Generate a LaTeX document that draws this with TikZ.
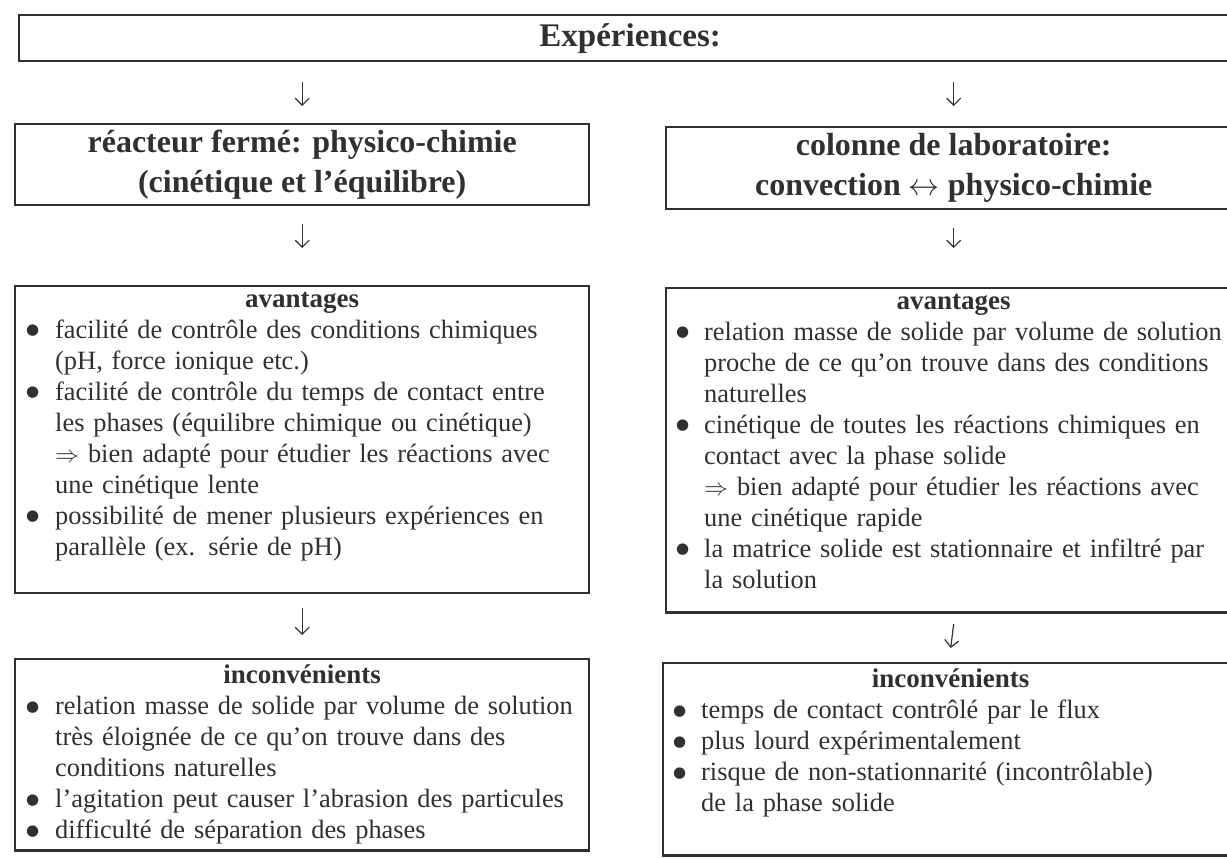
\documentclass[tikz,border=0pt]{standalone}
\usepackage{fontspec}
\setmainfont{Liberation Serif}
\newfontfamily\dotfont{DejaVu Sans}
\usetikzlibrary{arrows.meta,positioning,calc}
\definecolor{ink}{HTML}{303030}
\newlength{\bulpre}
\newlength{\bulind}
\newcommand{\bul}[1]{\makebox[\bulind][l]{\hspace{\bulpre}\raisebox{1.8pt}{\dotfont\fontsize{7.5}{8}\selectfont ●}}#1}
\newcommand{\cnt}[1]{\hspace*{\bulind}#1}
\newcommand{\imp}{$\Rightarrow$}
\newcommand{\both}{\scalebox{0.9}{$\leftrightarrow$}}
\newcommand{\listhead}[1]{{\centering\fontsize{13.5}{15}\selectfont\bfseries #1\par}}

\begin{document}
\begin{tikzpicture}[
    x=0.5pt, y=-0.5pt,
    >={Straight Barb[length=3.5pt,width=7pt]},
    box/.style={
        rectangle,
        draw=ink,
        line width=1.2pt,
        text=ink,
        inner sep=0pt
    },
    titlebox/.style={box, minimum width=611pt, minimum height=23pt,
        font=\fontsize{16.5}{20}\selectfont\bfseries},
    headbox/.style={box, align=center, font=\fontsize{16}{20}\selectfont\bfseries},
    listbox/.style={box, align=left, inner ysep=3pt, anchor=north west,
        font=\fontsize{13.2}{15.5}\selectfont},
    leftlist/.style={listbox, text width=287pt,
        execute at begin node={\setlength{\bulpre}{5.5pt}\setlength{\bulind}{20pt}}},
    rightlist/.style={listbox, text width=287.5pt,
        execute at begin node={\setlength{\bulpre}{5pt}\setlength{\bulind}{19pt}}},
    down/.style={draw=ink, line width=0.6pt, ->}
]

\useasboundingbox (0,0) rectangle (1227,858);

% --- TOP ---
\node[titlebox, anchor=north west] (expe) at (18,14) {Expériences:};

% --- COLUMN HEADERS ---
\node[headbox, minimum width=287pt, minimum height=40.5pt, anchor=north west] (reacteur) at (14,123) {
    réacteur fermé: physico-chimie\\
    (cinétique et l'équilibre)
};
\node[headbox, minimum width=287.5pt, minimum height=41pt, anchor=north west] (colonne) at (665,126) {
    colonne de laboratoire:\\
    convection \both{} physico-chimie
};

% --- AVANTAGES ---
\node[leftlist] (reacav) at (14,285) {%
    \listhead{avantages}
    \bul{facilité de contrôle des conditions chimiques}\\
    \cnt{(pH, force ionique etc.)}\\
    \bul{facilité de contrôle du temps de contact entre}\\
    \cnt{les phases (équilibre chimique ou cinétique)}\\
    \cnt{\imp{} bien adapté pour étudier les réactions avec}\\
    \cnt{une cinétique lente}\\
    \bul{possibilité de mener plusieurs expériences en}\\
    \cnt{parallèle (ex. série de pH)}\par\vspace*{13pt}};

\node[rightlist] (colav) at (665,287) {%
    \listhead{avantages}
    \bul{relation masse de solide par volume de solution}\\
    \cnt{proche de ce qu'on trouve dans des conditions}\\
    \cnt{naturelles}\\
    \bul{cinétique de toutes les réactions chimiques en}\\
    \cnt{contact avec la phase solide}\\
    \cnt{\imp{} bien adapté pour étudier les réactions avec}\\
    \cnt{une cinétique rapide}\\
    \bul{la matrice solide est stationnaire et infiltré par}\\
    \cnt{la solution}\par\vspace*{9pt}};

% --- INCONVENIENTS ---
\node[leftlist] (reacinc) at (14,658) {%
    \listhead{inconvénients}
    \bul{relation masse de solide par volume de solution}\\
    \cnt{très éloignée de ce qu'on trouve dans des}\\
    \cnt{conditions naturelles}\\
    \bul{l'agitation peut causer l'abrasion des particules}\\
    \bul{difficulté de séparation des phases}};

\node[rightlist] (colinc) at (662,662) {%
    \listhead{inconvénients}
    \bul{temps de contact contrôlé par le flux}\\
    \bul{plus lourd expérimentalement}\\
    \bul{risque de non-stationnarité (incontrôlable)}\\
    \cnt{de la phase solide}\par\vspace*{16pt}};

% --- ARROWS ---
\draw[down] ([yshift=-10pt]expe.south -| reacteur.north) -- ([yshift=8.5pt]reacteur.north);
\draw[down] ([yshift=-10pt]expe.south -| colonne.north) -- ([yshift=10pt]colonne.north);
\draw[down] ([yshift=-9pt]reacteur.south) -- ([yshift=18.5pt]reacav.north);
\draw[down] ([yshift=-9pt]colonne.south) -- ([yshift=19.5pt]colav.north);
\draw[down] ([yshift=-7pt]reacav.south) -- ([yshift=11.5pt]reacinc.north);
\draw[down] ([yshift=-5pt]colav.south) -- ([yshift=7pt]colinc.north);

\end{tikzpicture}
\end{document}
